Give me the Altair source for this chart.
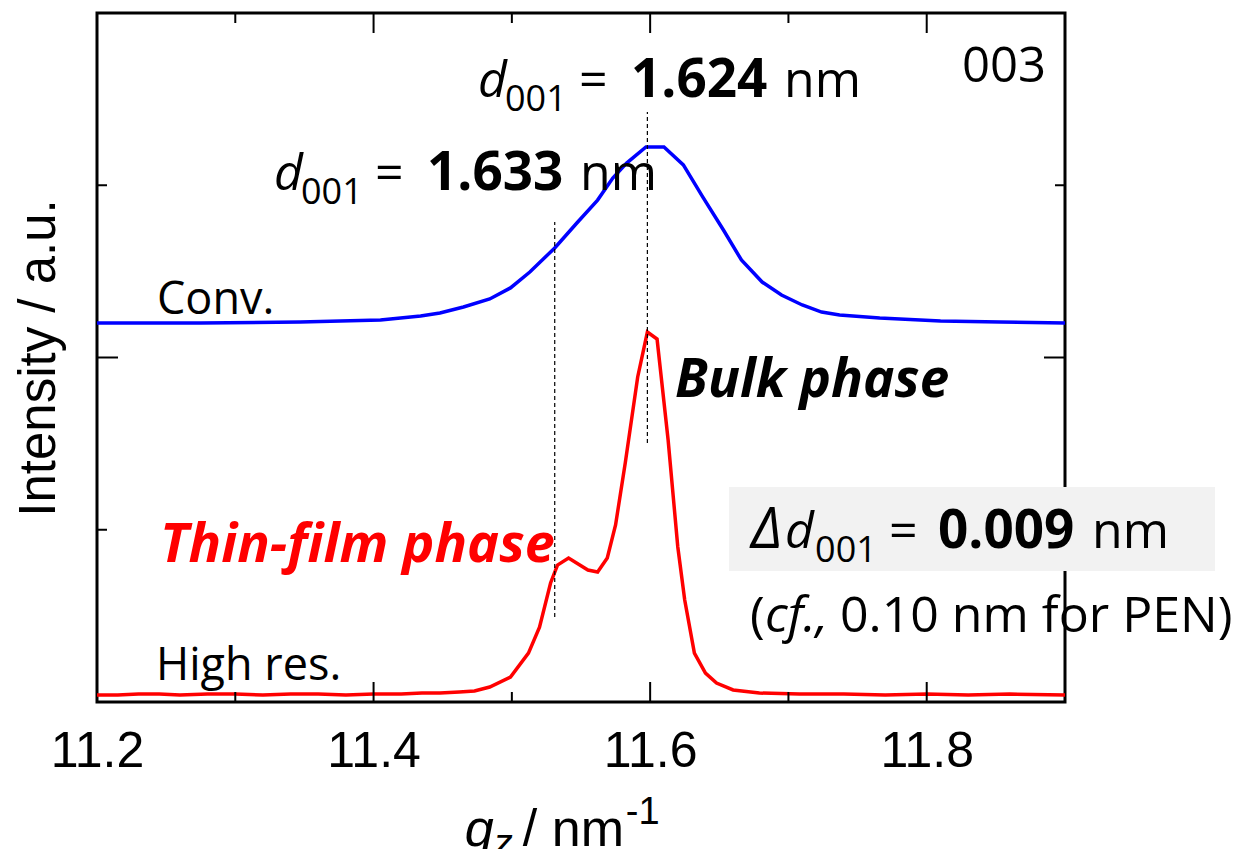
import altair as alt
import pandas as pd

# ---------------- data ----------------
conv_q = [11.200, 11.275, 11.347, 11.405, 11.434, 11.448, 11.465, 11.484, 11.499, 11.513,
          11.531, 11.547, 11.562, 11.573, 11.583, 11.597, 11.610, 11.624, 11.638, 11.653,
          11.666, 11.681, 11.695, 11.710, 11.724, 11.737, 11.766, 11.810, 11.853, 11.900]
conv_i = [2.200, 2.200, 2.206, 2.218, 2.241, 2.258, 2.293, 2.340, 2.404, 2.496,
          2.636, 2.781, 2.914, 3.042, 3.129, 3.222, 3.222, 3.118, 2.932, 2.740,
          2.566, 2.438, 2.363, 2.305, 2.264, 2.247, 2.229, 2.212, 2.206, 2.200]

hr_q = [11.200, 11.215, 11.230, 11.245, 11.260, 11.280, 11.300, 11.320, 11.340, 11.360,
        11.380, 11.400, 11.420, 11.435, 11.448, 11.462, 11.473, 11.484, 11.499, 11.512,
        11.520, 11.528, 11.533, 11.541, 11.555, 11.562, 11.569, 11.575, 11.582, 11.591,
        11.598, 11.605, 11.613, 11.620, 11.625, 11.632, 11.640, 11.648, 11.660, 11.679,
        11.708, 11.740, 11.770, 11.800, 11.830, 11.860, 11.900]
hr_i = [0.041, 0.041, 0.046, 0.046, 0.041, 0.046, 0.046, 0.041, 0.046, 0.046,
        0.041, 0.046, 0.046, 0.052, 0.052, 0.058, 0.064, 0.087, 0.145, 0.284,
        0.435, 0.691, 0.795, 0.836, 0.766, 0.755, 0.836, 1.028, 1.388, 1.887,
        2.148, 2.107, 1.521, 0.900, 0.592, 0.284, 0.168, 0.110, 0.070, 0.052,
        0.046, 0.046, 0.041, 0.046, 0.041, 0.046, 0.041]

# dashed guide lines (thin-film, bulk)
guide_q = [11.531, 11.598]
guide_lo = [0.493, 1.504]
guide_hi = [2.787, 3.425]

x_label_values = [11.2, 11.4, 11.6, 11.8]
x_major_ticks = [11.4, 11.6, 11.8]
x_minor_ticks = [11.3, 11.5, 11.7]
y_major_ticks = [2]
y_minor_ticks = [1, 3]

# ---------------- layout ----------------
W, H = 968, 689
XS = alt.Scale(domain=[11.2, 11.9], nice=False, zero=False)
YS = alt.Scale(domain=[0, 4], nice=False, zero=False)
SANS = "Open Sans"

XAX = alt.Axis(values=x_label_values, format=".1f", ticks=False, domain=False,
               grid=False, labelFont="Liberation Sans", labelFontSize=50,
               labelColor="black", labelPadding=24, labelFlush=False, title="")
YAX = alt.Axis(ticks=False, labels=False, domain=False, grid=False,
               title="Intensity / a.u.", titleFont="Liberation Sans",
               titleFontSize=51, titleFontWeight="normal", titleColor="black",
               titlePadding=32)


def X(field):
    return alt.X(field, type="quantitative", scale=XS, axis=XAX)


def Y(field):
    return alt.Y(field, type="quantitative", scale=YS, axis=YAX)


conv_df = pd.DataFrame({"q": conv_q, "I": conv_i})
hr_df = pd.DataFrame({"q": hr_q, "I": hr_i})

conv_line = alt.Chart(conv_df).mark_line(color="#0000ff", strokeWidth=3.5).encode(
    x=X("q"), y=Y("I"))
hr_line = alt.Chart(hr_df).mark_line(color="#ff0000", strokeWidth=3.5).encode(
    x=X("q"), y=Y("I"))

guides = alt.Chart(pd.DataFrame({"q": guide_q, "lo": guide_lo, "hi": guide_hi})).mark_rule(
    color="black", strokeWidth=1.2, strokeDash=[4, 3]).encode(
    x=X("q"), y=Y("lo"), y2="hi:Q")


def xticks(vals, length):
    d = pd.DataFrame({"t": vals})
    bot = alt.Chart(d).mark_rule(color="black", strokeWidth=2).encode(
        x=X("t"), y=alt.value(H), y2=alt.value(H - length))
    top = alt.Chart(d).mark_rule(color="black", strokeWidth=2).encode(
        x=X("t"), y=alt.value(0), y2=alt.value(length))
    return [bot, top]


def yticks(vals, length):
    d = pd.DataFrame({"t": vals})
    left = alt.Chart(d).mark_rule(color="black", strokeWidth=2).encode(
        y=Y("t"), x=alt.value(0), x2=alt.value(length))
    right = alt.Chart(d).mark_rule(color="black", strokeWidth=2).encode(
        y=Y("t"), x=alt.value(W), x2=alt.value(W - length))
    return [left, right]


tick_layers = xticks(x_major_ticks, 20) + xticks(x_minor_ticks, 10) + \
    yticks(y_major_ticks, 21) + yticks(y_minor_ticks, 10)

# grey box behind the Δd annotation
box = alt.Chart(pd.DataFrame({"a": [11.657], "b": [12.0085], "c": [0.7605], "d": [1.248]})).mark_rect(
    color="#f2f2f2").encode(x=X("a"), x2="b:Q", y=Y("c"), y2="d:Q")


def txt(q, v, text, size, dx=0, dy=0, weight="normal", style="normal", color="black", font=SANS):
    return alt.Chart(pd.DataFrame({"q": [q], "v": [v], "t": [text]})).mark_text(
        align="left", baseline="alphabetic", fontSize=size, fontWeight=weight,
        fontStyle=style, color=color, font=font, dx=dx, dy=dy).encode(
        x=X("q"), y=Y("v"), text="t:N")


def dline(q, v, value_text):
    return [
        txt(q, v, "d", 50, style="italic"),
        txt(q, v, "001", 36, dx=27, dy=14),
        txt(q, v, "=", 50, dx=101),
        txt(q, v, value_text, 53, dx=153, weight="bold"),
        txt(q, v, "nm", 50, dx=306),
    ]


texts = []
texts += dline(11.4755, 3.512, "1.624")
texts += dline(11.3280, 2.972, "1.633")
texts += [txt(11.8255, 3.599, "003", 49)]
texts += [txt(11.2434, 2.2526, "Conv.", 45)]
texts += [txt(11.2427, 0.1277, "High res.", 45)]
texts += [txt(11.2455, 0.8128, "Thin-film phase", 54, weight="bold", style="italic", color="#ff0000")]
texts += [txt(11.6180, 1.7707, "Bulk phase", 53, weight="bold", style="italic")]
# Δd line
texts += [
    txt(11.6708, 0.894, "Δ", 56, dx=3, style="italic"),
    txt(11.6708, 0.894, "d", 50, dx=37, style="italic"),
    txt(11.6708, 0.894, "001", 36, dx=67, dy=14),
    txt(11.6708, 0.894, "=", 50, dx=141),
    txt(11.6708, 0.894, "0.009", 53, dx=190, weight="bold"),
    txt(11.6708, 0.894, "nm", 50, dx=344),
]
# cf. line
texts += [
    txt(11.6722, 0.406, "(", 50),
    txt(11.6722, 0.406, "cf.,", 50, dx=15, style="italic"),
    txt(11.6722, 0.406, "0.10 nm for PEN)", 50, dx=90),
]
# x-axis title
XT_Q, XT_V = 11.466, -0.835
texts += [
    txt(XT_Q, XT_V, "q", 52, style="italic", font="Liberation Sans"),
    txt(XT_Q, XT_V, "z", 38, dx=29, dy=10, style="italic", font="Liberation Sans"),
    txt(XT_Q, XT_V, "/ nm", 52, dx=58, font="Liberation Sans"),
    txt(XT_Q, XT_V, "-1", 38, dx=161, dy=-22, font="Liberation Sans"),
]

chart = alt.layer(
    conv_line, hr_line, guides, *tick_layers, box, *texts
).properties(
    width=W, height=H,
    autosize=alt.AutoSizeParams(type="none"),
    padding={"left": 97, "top": 13, "right": 175, "bottom": 147},
    background="white",
).configure_view(stroke="black", strokeWidth=3)

chart.save("out.html", embed_options={"renderer": "svg", "actions": False})
